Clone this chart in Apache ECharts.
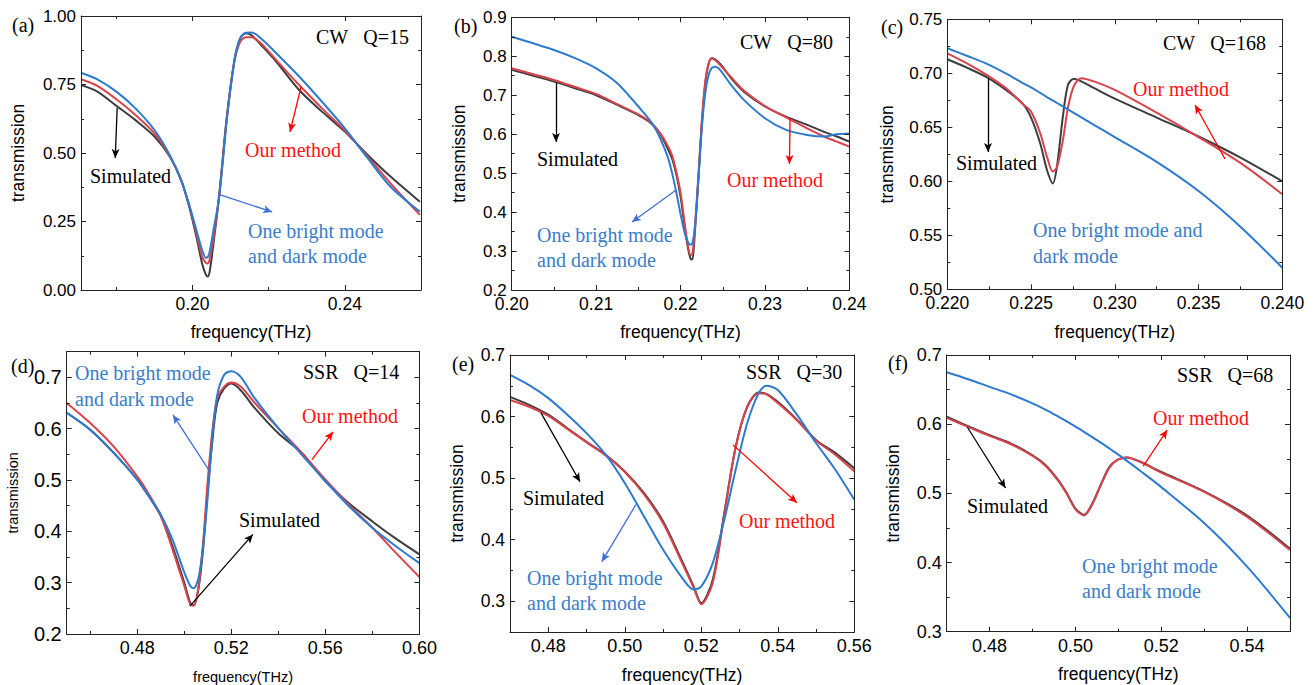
<!DOCTYPE html>
<html><head><meta charset="utf-8">
<script src="https://cdn.jsdelivr.net/npm/echarts@6/dist/echarts.min.js"></script>
<style>html,body{margin:0;padding:0;background:#fff}#c{width:1315px;height:685px}</style>
</head><body><div id="c"></div>
<script>
// ---------------- DATA ----------------
// (a) CW Q=15
const freqA   = [0.1707,0.175,0.18,0.185,0.19,0.194,0.197,0.199,0.201,0.2025,0.2035,0.204,0.2045,0.2055,0.207,0.209,0.211,0.2125,0.214,0.2155,0.218,0.222,0.228,0.234,0.24,0.246,0.252,0.2597];
const simA    = [0.748,0.724,0.672,0.620,0.560,0.487,0.401,0.310,0.195,0.097,0.056,0.049,0.068,0.170,0.347,0.633,0.839,0.918,0.937,0.930,0.894,0.833,0.730,0.651,0.578,0.493,0.414,0.322];
const oursA   = [0.769,0.745,0.696,0.639,0.572,0.489,0.401,0.314,0.207,0.122,0.099,0.097,0.112,0.189,0.343,0.627,0.833,0.906,0.922,0.922,0.900,0.839,0.748,0.663,0.582,0.487,0.389,0.274];
const brightA = [0.793,0.769,0.724,0.663,0.584,0.493,0.401,0.316,0.219,0.146,0.118,0.120,0.140,0.219,0.341,0.620,0.839,0.918,0.939,0.940,0.918,0.864,0.779,0.687,0.590,0.481,0.377,0.286];
const xTicksA = [0.20,0.24], xMinorA = [0.18,0.22];
const yTicksA = [0,0.25,0.5,0.75,1], yMinorA = [0.125,0.375,0.625,0.875];

// (b) CW Q=80
const freqB   = [0.20,0.205,0.2075,0.21,0.2125,0.215,0.2165,0.2176,0.2185,0.219,0.2195,0.22,0.2205,0.2209,0.2212,0.2214,0.2217,0.2221,0.2225,0.2229,0.2233,0.2237,0.2241,0.2245,0.225,0.226,0.2275,0.23,0.2325,0.235,0.237,0.2385,0.24];
const simB    = [0.765,0.735,0.718,0.700,0.675,0.649,0.628,0.600,0.562,0.537,0.497,0.440,0.360,0.305,0.280,0.278,0.350,0.480,0.620,0.725,0.778,0.795,0.792,0.785,0.773,0.743,0.709,0.671,0.645,0.624,0.606,0.594,0.581];
const oursB   = [0.769,0.739,0.721,0.703,0.677,0.651,0.630,0.602,0.570,0.545,0.503,0.450,0.370,0.310,0.290,0.292,0.362,0.490,0.628,0.730,0.780,0.795,0.790,0.782,0.770,0.746,0.712,0.672,0.643,0.615,0.594,0.581,0.568];
const brightB = [0.850,0.816,0.795,0.769,0.731,0.671,0.632,0.589,0.540,0.500,0.450,0.395,0.345,0.322,0.316,0.320,0.360,0.480,0.610,0.700,0.750,0.770,0.773,0.769,0.756,0.726,0.688,0.641,0.611,0.598,0.594,0.600,0.602];
const xTicksB = [0.20,0.21,0.22,0.23,0.24], xMinorB = [0.205,0.215,0.225,0.235];
const yTicksB = [0.2,0.3,0.4,0.5,0.6,0.7,0.8,0.9], yMinorB = [0.25,0.35,0.45,0.55,0.65,0.75,0.85];

// (c) CW Q=168
const freqC   = [0.220,0.2212,0.2224,0.2236,0.2245,0.2250,0.22555,0.22595,0.2263,0.22655,0.2269,0.2272,0.22755,0.228,0.2288,0.230,0.2325,0.235,0.2375,0.240];
const simC    = [0.713,0.705,0.696,0.6835,0.672,0.659,0.635,0.6105,0.598,0.614,0.660,0.689,0.695,0.6925,0.686,0.6765,0.659,0.6415,0.622,0.600];
const oursC   = [0.7185,0.709,0.698,0.685,0.6715,0.6645,0.6444,0.6228,0.609,0.613,0.638,0.668,0.688,0.6955,0.6923,0.6846,0.6635,0.641,0.617,0.588];
const brightC = [0.7232,0.716,0.7085,0.699,0.691,0.687,0.6818,0.678,0.6748,0.6725,0.6694,0.6666,0.6634,0.6592,0.6518,0.641,0.618,0.591,0.558,0.520];
const xTicksC = [0.220,0.225,0.230,0.235,0.240], xMinorC = [0.2225,0.2275,0.2325,0.2375];
const yTicksC = [0.50,0.55,0.60,0.65,0.70,0.75], yMinorC = [0.525,0.575,0.625,0.675,0.725];

// (d) SSR Q=14
const freqD   = [0.45,0.46,0.47,0.48,0.485,0.49,0.495,0.5,0.5025,0.504,0.506,0.508,0.51,0.512,0.514,0.517,0.52,0.524,0.53,0.54,0.55,0.56,0.57,0.58,0.59,0.60];
const simD    = [0.631,0.598,0.553,0.501,0.468,0.430,0.371,0.300,0.261,0.256,0.287,0.365,0.481,0.578,0.650,0.679,0.688,0.675,0.640,0.591,0.5525,0.4975,0.4549,0.4193,0.3857,0.3552];
const oursD   = [0.650,0.611,0.565,0.507,0.472,0.430,0.365,0.294,0.258,0.255,0.290,0.378,0.500,0.598,0.659,0.682,0.690,0.682,0.650,0.601,0.553,0.501,0.452,0.407,0.358,0.311];
const brightD = [0.631,0.598,0.553,0.501,0.468,0.433,0.384,0.320,0.294,0.289,0.308,0.370,0.470,0.585,0.665,0.705,0.712,0.701,0.659,0.601,0.549,0.498,0.449,0.407,0.371,0.338];
const xTicksD = [0.48,0.52,0.56,0.60], xMinorD = [0.46,0.50,0.54,0.58];
const yTicksD = [0.2,0.3,0.4,0.5,0.6,0.7], yMinorD = [0.25,0.35,0.45,0.55,0.65];

// (e) SSR Q=30
const freqE   = [0.47,0.475,0.48,0.485,0.49,0.495,0.5,0.505,0.51,0.515,0.518,0.52,0.523,0.526,0.529,0.532,0.535,0.537,0.54,0.545,0.55,0.555,0.56];
const simE    = [0.632,0.619,0.603,0.581,0.559,0.538,0.511,0.476,0.430,0.365,0.324,0.297,0.335,0.443,0.551,0.616,0.639,0.637,0.624,0.595,0.562,0.541,0.516];
const oursE   = [0.627,0.616,0.601,0.580,0.558,0.537,0.510,0.474,0.427,0.362,0.322,0.295,0.330,0.440,0.550,0.615,0.638,0.636,0.622,0.594,0.561,0.538,0.511];
const brightE = [0.6676,0.651,0.630,0.603,0.573,0.538,0.492,0.438,0.384,0.338,0.319,0.324,0.362,0.432,0.514,0.589,0.638,0.650,0.643,0.603,0.557,0.514,0.465];
const xTicksE = [0.48,0.50,0.52,0.54,0.56], xMinorE = [0.49,0.51,0.53,0.55];
const yTicksE = [0.3,0.4,0.5,0.6,0.7], yMinorE = [0.35,0.45,0.55,0.65];

// (f) SSR Q=68
const freqF   = [0.47,0.475,0.48,0.485,0.49,0.493,0.496,0.498,0.5,0.502,0.504,0.506,0.508,0.51,0.512,0.515,0.52,0.53,0.54,0.55];
const simF    = [0.611,0.597,0.584,0.572,0.555,0.541,0.519,0.500,0.478,0.469,0.486,0.514,0.539,0.549,0.552,0.546,0.531,0.503,0.468,0.420];
const oursF   = [0.609,0.596,0.583,0.571,0.554,0.540,0.518,0.499,0.477,0.468,0.485,0.513,0.538,0.549,0.552,0.546,0.530,0.502,0.466,0.418];
const brightF = [0.675,0.665,0.654,0.643,0.630,0.621,0.611,0.604,0.5965,0.589,0.581,0.573,0.5645,0.556,0.547,0.533,0.509,0.457,0.394,0.320];
const xTicksF = [0.48,0.50,0.52,0.54], xMinorF = [0.47,0.49,0.51,0.53];
const yTicksF = [0.3,0.4,0.5,0.6,0.7], yMinorF = [0.35,0.45,0.55,0.65];

// Annotation arrows (data coordinates): [x1, y1, x2, y2, seriesIdx 0=sim 1=ours 2=bright]
const arrowsA = [[0.1802,0.664,0.1797,0.482,0],[0.2285,0.741,0.2256,0.577,1],[0.2073,0.347,0.2209,0.285,2]];
const arrowsB = [[0.20525,0.7315,0.20525,0.58,0],[0.23297,0.6416,0.2329,0.5235,1],[0.21947,0.4567,0.21425,0.3746,2]];
const arrowsC = [[0.22243,0.6957,0.22243,0.6272,0],[0.23658,0.6207,0.23479,0.6707,1]];
const arrowsD = [[0.5024,0.2543,0.5292,0.394,0],[0.5543,0.5396,0.5633,0.594,1],[0.5109,0.5163,0.4952,0.6269,2]];
const arrowsE = [[0.4781,0.6059,0.4883,0.494,0],[0.5283,0.554,0.545,0.46,1],[0.5029,0.4568,0.494,0.3643,2]];
const arrowsF = [[0.4748,0.5959,0.4837,0.5077,0],[0.5158,0.5395,0.5214,0.5916,1]];

// ---------------- STYLE / LAYOUT ----------------
const SANS = 'Liberation Sans', SERIF = 'Liberation Serif';
const LINE_COLORS = ['#3d3d3d', '#d9434b', '#2c7bcf'];
const ARROW_COLORS = ['#000000', '#ff0000', '#3f6fd0'];
const RED_TXT = '#ff1414', BLUE_TXT = '#3b7dc8', BLACK_TXT = '#000';

const panels = [
  {g:{left:81,top:16,width:340,height:274}, xr:[0.1707,0.26], yr:[0,1], xt:xTicksA, xm:xMinorA, yt:yTicksA, ym:yMinorA, xd:2, yd:2,
   f:freqA, s:[simA,oursA,brightA], ar:arrowsA, xfs:17.5, yfs:17, nfs:17.5, yng:54, xng:33},
  {g:{left:511.7,top:17.3,width:337.7,height:272.7}, xr:[0.20,0.24], yr:[0.2,0.9], xt:xTicksB, xm:xMinorB, yt:yTicksB, ym:yMinorB, xd:2, yd:1,
   f:freqB, s:[simB,oursB,brightB], ar:arrowsB, xfs:17.5, yfs:17, nfs:17.5, yng:44, xng:33},
  {g:{left:947.3,top:19.3,width:335,height:270}, xr:[0.22,0.24], yr:[0.5,0.75], xt:xTicksC, xm:xMinorC, yt:yTicksC, ym:yMinorC, xd:3, yd:2,
   f:freqC, s:[simC,oursC,brightC], ar:arrowsC, xfs:17.5, yfs:17, nfs:17.5, yng:51, xng:34},
  {g:{left:66.7,top:351.7,width:352.7,height:283.3}, xr:[0.45,0.60], yr:[0.2,0.75], xt:xTicksD, xm:xMinorD, yt:yTicksD, ym:yMinorD, xd:2, yd:1,
   f:freqD, s:[simD,oursD,brightD], ar:arrowsD, xfs:18, yfs:20, nfs:14.5, yng:46, xng:35},
  {g:{left:510,top:355,width:344.3,height:277.7}, xr:[0.47,0.56], yr:[0.25,0.70], xt:xTicksE, xm:xMinorE, yt:yTicksE, ym:yMinorE, xd:2, yd:1,
   f:freqE, s:[simE,oursE,brightE], ar:arrowsE, xfs:18, yfs:17.5, nfs:17.5, yng:44, xng:34},
  {g:{left:946.7,top:355,width:343.3,height:276.7}, xr:[0.47,0.55], yr:[0.3,0.70], xt:xTicksF, xm:xMinorF, yt:yTicksF, ym:yMinorF, xd:2, yd:1,
   f:freqF, s:[simF,oursF,brightF], ar:arrowsF, xfs:18, yfs:18, nfs:17.5, yng:45, xng:33}
];

// text annotations: [text, color, left(px), centerY(px), fontSize]
const notes = [
  ['(a)',BLACK_TXT,12,25,20], ['CW\u00a0\u00a0\u00a0Q=15',BLACK_TXT,316,37,20], ['Our method',RED_TXT,245,150,20], ['Simulated',BLACK_TXT,90,176,20],
  ['One bright mode',BLUE_TXT,248,231,20], ['and dark mode',BLUE_TXT,248,256,20],
  ['(b)',BLACK_TXT,454,26,20], ['CW\u00a0\u00a0\u00a0Q=80',BLACK_TXT,740,42,20], ['Simulated',BLACK_TXT,537,159,20], ['Our method',RED_TXT,727,180,20],
  ['One bright mode',BLUE_TXT,537,235,20], ['and dark mode',BLUE_TXT,537,260,20],
  ['(c)',BLACK_TXT,881,27,20], ['CW\u00a0\u00a0\u00a0Q=168',BLACK_TXT,1163,43,20], ['Our method',RED_TXT,1133,89,20], ['Simulated',BLACK_TXT,956,163,20],
  ['One bright mode and',BLUE_TXT,1033,230,20], ['dark mode',BLUE_TXT,1033,256,20],
  ['(d)',BLACK_TXT,11,366,20], ['SSR\u00a0\u00a0\u00a0Q=14',BLACK_TXT,303,372,20], ['One bright mode',BLUE_TXT,75,373,20], ['and dark mode',BLUE_TXT,75,399,20],
  ['Our method',RED_TXT,302,416,20], ['Simulated',BLACK_TXT,239,520,20],
  ['(e)',BLACK_TXT,452,364,20], ['SSR\u00a0\u00a0\u00a0Q=30',BLACK_TXT,746,372,20], ['Simulated',BLACK_TXT,523,498,20], ['Our method',RED_TXT,739,521,20],
  ['One bright mode',BLUE_TXT,527,578,20], ['and dark mode',BLUE_TXT,527,603,20],
  ['(f)',BLACK_TXT,888,363,20], ['SSR\u00a0\u00a0\u00a0Q=68',BLACK_TXT,1177,375,20], ['Our method',RED_TXT,1153,418,20], ['Simulated',BLACK_TXT,967,506,20],
  ['One bright mode',BLUE_TXT,1082,566,20], ['and dark mode',BLUE_TXT,1082,591,20]
];

// ---------------- BUILD ----------------
function mkAxis(o) {
  return {
    type: 'value', gridIndex: o.g, position: o.pos, min: o.min, max: o.max,
    axisLine: {show: o.line, onZero: false, lineStyle: {color: '#222', width: 1}},
    axisTick: {show: true, inside: true, length: o.len, customValues: o.ticks, lineStyle: {color: '#222', width: 1}},
    axisLabel: o.label ? {show: true, customValues: o.ticks, formatter: v => Number(v).toFixed(o.dec),
      fontSize: o.fs, color: '#000', fontFamily: SANS, margin: 5} : {show: false},
    splitLine: {show: false},
    name: o.name || '', nameLocation: 'middle', nameGap: o.nameGap || 0,
    nameTextStyle: {fontSize: o.nfs || 12, color: '#000', fontFamily: SANS},
    silent: true, z: 5
  };
}

const grid = [], xAxis = [], yAxis = [], series = [];
panels.forEach((p, i) => {
  grid.push(Object.assign({containLabel: false}, p.g));
  const X = (pos, ticks, len, line, label, name) => mkAxis({g: i, pos, min: p.xr[0], max: p.xr[1], ticks, len, line, label,
      dec: p.xd, fs: p.xfs, name, nameGap: p.xng, nfs: p.nfs});
  const Y = (pos, ticks, len, line, label, name) => mkAxis({g: i, pos, min: p.yr[0], max: p.yr[1], ticks, len, line, label,
      dec: p.yd, fs: p.yfs, name, nameGap: p.yng, nfs: p.nfs});
  xAxis.push(X('bottom', p.xt, 5, true, true, 'frequency(THz)'));
  xAxis.push(X('bottom', p.xm, 3, false, false));
  xAxis.push(X('top', p.xt, 5, true, false));
  xAxis.push(X('top', p.xm, 3, false, false));
  yAxis.push(Y('left', p.yt, 5, true, true, 'transmission'));
  yAxis.push(Y('left', p.ym, 3, false, false));
  yAxis.push(Y('right', p.yt, 5, true, false));
  yAxis.push(Y('right', p.ym, 3, false, false));

  [0, 1, 2].forEach(k => {
    const arrows = p.ar.filter(a => a[4] === k);
    series.push({
      type: 'line', xAxisIndex: 4 * i, yAxisIndex: 4 * i,
      data: p.f.map((fv, j) => [fv, p.s[k][j]]),
      showSymbol: false, symbol: 'none', smooth: 0.3,
      lineStyle: {color: LINE_COLORS[k], width: 2}, itemStyle: {color: LINE_COLORS[k]},
      z: 2 + k, silent: true, animation: false,
      markLine: arrows.length ? {
        silent: true, symbol: ['none', 'arrow'], symbolSize: [6, 9], animation: false,
        label: {show: false}, emphasis: {disabled: true},
        lineStyle: {color: ARROW_COLORS[k], width: 1.3, type: 'solid'},
        data: arrows.map(a => [{coord: [a[0], a[1]]}, {coord: [a[2], a[3]]}])
      } : undefined
    });
  });
});

const graphic = notes.map(n => ({
  type: 'text', x: n[2], y: n[3], silent: true, z: 50,
  style: {text: n[0], fill: n[1], font: n[4] + 'px "' + SERIF + '"', verticalAlign: 'middle', align: 'left'}
}));

const chart = echarts.init(document.getElementById('c'), null, {renderer: 'svg'});
chart.setOption({
  animation: false, backgroundColor: '#fff',
  grid, xAxis, yAxis, series, graphic
});
</script>
</body></html>
